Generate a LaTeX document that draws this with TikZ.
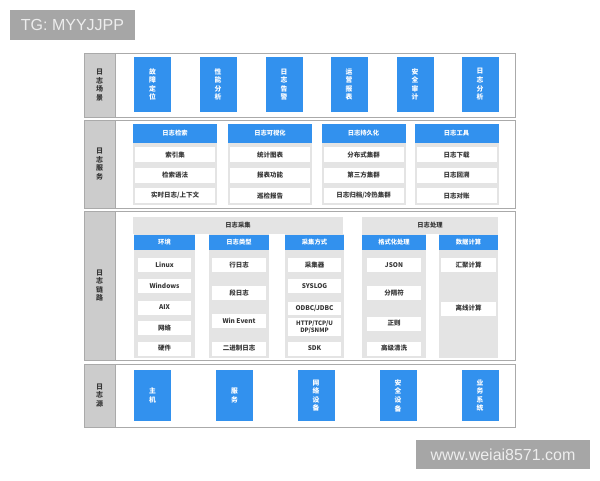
\documentclass[tikz,border=0pt]{standalone}
\usepackage{fontspec}
\setmainfont{Noto Sans CJK SC}
\newfontfamily\tagfont{Liberation Sans}
\usepackage{tikz}
\usetikzlibrary{positioning}
\definecolor{myblue}{RGB}{50,145,238}
\definecolor{mygri1}{RGB}{228,228,228}
\definecolor{mygri2}{RGB}{204,204,204}
\definecolor{mygri3}{RGB}{170,170,170}
\definecolor{mytag}{RGB}{166,166,166}
\definecolor{mydark}{RGB}{55,55,55}
\tikzstyle{row} = [rectangle, draw=mygri3, fill=white, line width=0.8pt, inner sep=0pt]
\tikzstyle{side} = [rectangle, draw=mygri3, fill=mygri2, line width=0.8pt, text=mydark, inner sep=0pt, align=center, minimum width=31pt, font=\bfseries\fontsize{7}{8.5}\selectfont]
\tikzstyle{tile} = [rectangle, fill=myblue, text=white, inner sep=0pt, align=center, minimum width=37pt, font=\bfseries\fontsize{6.8}{8.6}\selectfont]
\tikzstyle{group} = [rectangle, fill=mygri1, inner sep=0pt]
\tikzstyle{head} = [rectangle, fill=myblue, text=white, inner sep=0pt, font=\bfseries\fontsize{6.3}{7}\selectfont]
\tikzstyle{band} = [rectangle, fill=mygri1, text=mydark, inner sep=0pt, minimum height=17pt, font=\bfseries\fontsize{6.3}{7}\selectfont]
\tikzstyle{item} = [rectangle, fill=white, text=mydark, inner sep=0pt, align=center, font=\bfseries\fontsize{6.5}{7}\selectfont]
\tikzstyle{tag} = [rectangle, fill=mytag, text=white!93!black, inner sep=0pt, font=\tagfont\fontsize{16}{19}\selectfont]

\begin{document}
\begin{tikzpicture}[x=1pt,y=-1pt]
	\useasboundingbox (0,0) rectangle (600,480);
	\node (tg)[tag, minimum width=125pt, minimum height=30pt] at (72.5,25) {TG: MYYJJPP};
	\node (www)[tag, minimum width=174pt, minimum height=29pt] at (503,454.5) {www.weiai8571.com};
	% rows
	\node (scen)[row, minimum width=431pt, minimum height=64pt] at (299.5,85) {};
	\node (serv)[row, minimum width=431pt, minimum height=88pt] at (299.5,164) {};
	\node (link)[row, minimum width=431pt, minimum height=149pt] at (299.5,285.5) {};
	\node (srce)[row, minimum width=431pt, minimum height=63pt] at (299.5,395.5) {};
	\node (scenl)[side, minimum height=64pt] at (99.5,85) {日\\志\\场\\景};
	\node (servl)[side, minimum height=88pt] at (99.5,164) {日\\志\\服\\务};
	\node (linkl)[side, minimum height=149pt] at (99.5,285.5) {日\\志\\链\\路};
	\node (srcel)[side, minimum height=63pt] at (99.5,395.5) {日\\志\\源};
	% scenes
	\node (scen1)[tile, minimum height=55pt] at (152.5,84.5) {故\\障\\定\\位};
	\node (scen2)[tile, minimum height=55pt] at (218,84.5) {性\\能\\分\\析};
	\node (scen3)[tile, minimum height=55pt] at (284,84.5) {日\\志\\告\\警};
	\node (scen4)[tile, minimum height=55pt] at (349,84.5) {运\\营\\报\\表};
	\node (scen5)[tile, minimum height=55pt] at (415,84.5) {安\\全\\审\\计};
	\node (scen6)[tile, minimum height=55pt] at (480,84.5) {日\\志\\分\\析};
	% services
	\node (srchbg)[group, minimum width=84pt, minimum height=81pt] at (175,164.5) {};
	\node (visubg)[group, minimum width=84pt, minimum height=81pt] at (270,164.5) {};
	\node (persbg)[group, minimum width=84pt, minimum height=81pt] at (363.5,164.5) {};
	\node (toolbg)[group, minimum width=84pt, minimum height=81pt] at (456.5,164.5) {};
	\node (srchh)[head, minimum width=84pt, minimum height=19pt] at (175,133.5) {日志检索};
	\node (visuh)[head, minimum width=84pt, minimum height=19pt] at (270,133.5) {日志可视化};
	\node (persh)[head, minimum width=84pt, minimum height=19pt] at (363.5,133.5) {日志持久化};
	\node (toolh)[head, minimum width=84pt, minimum height=19pt] at (456.5,133.5) {日志工具};
	\node (srch1)[item, minimum width=80pt, minimum height=15pt, below=4pt of srchh] {索引集};
	\node (srch2)[item, minimum width=80pt, minimum height=15pt, below=5pt of srch1] {检索语法};
	\node (srch3)[item, minimum width=80pt, minimum height=15pt, below=5pt of srch2] {实时日志/上下文};
	\node (visu1)[item, minimum width=80pt, minimum height=15pt, below=4pt of visuh] {统计图表};
	\node (visu2)[item, minimum width=80pt, minimum height=15pt, below=5pt of visu1] {报表功能};
	\node (visu3)[item, minimum width=80pt, minimum height=15pt, below=5pt of visu2] {巡检报告};
	\node (pers1)[item, minimum width=80pt, minimum height=15pt, below=4pt of persh] {分布式集群};
	\node (pers2)[item, minimum width=80pt, minimum height=15pt, below=5pt of pers1] {第三方集群};
	\node (pers3)[item, minimum width=80pt, minimum height=15pt, below=5pt of pers2] {日志归档/冷热集群};
	\node (tool1)[item, minimum width=80pt, minimum height=15pt, below=4pt of toolh] {日志下载};
	\node (tool2)[item, minimum width=80pt, minimum height=15pt, below=5pt of tool1] {日志回溯};
	\node (tool3)[item, minimum width=80pt, minimum height=15pt, below=5pt of tool2] {日志对账};
	% link
	\node (coll)[band, minimum width=210pt] at (238,225.5) {日志采集};
	\node (proc)[band, minimum width=136pt] at (430,225.5) {日志处理};
	\node (envbg)[group, minimum width=61pt, minimum height=124pt] at (164.5,296) {};
	\node (typebg)[group, minimum width=60pt, minimum height=124pt] at (239,296) {};
	\node (waybg)[group, minimum width=59pt, minimum height=124pt] at (314.5,296) {};
	\node (fmtbg)[group, minimum width=64pt, minimum height=124pt] at (394,296) {};
	\node (calcbg)[group, minimum width=59pt, minimum height=124pt] at (468.5,296) {};
	\node (envh)[head, minimum width=61pt, minimum height=15pt] at (164.5,242.5) {环境};
	\node (typeh)[head, minimum width=60pt, minimum height=15pt] at (239,242.5) {日志类型};
	\node (wayh)[head, minimum width=59pt, minimum height=15pt] at (314.5,242.5) {采集方式};
	\node (fmth)[head, minimum width=64pt, minimum height=15pt] at (394,242.5) {格式化处理};
	\node (calch)[head, minimum width=59pt, minimum height=15pt] at (468.5,242.5) {数据计算};
	\node (env1)[item, minimum width=53pt, minimum height=14pt] at (164.5,265) {Linux};
	\node (env2)[item, minimum width=53pt, minimum height=14pt] at (164.5,286) {Windows};
	\node (env3)[item, minimum width=53pt, minimum height=14pt] at (164.5,307.5) {AIX};
	\node (env4)[item, minimum width=53pt, minimum height=14pt] at (164.5,328) {网络};
	\node (env5)[item, minimum width=53pt, minimum height=14pt] at (164.5,348.5) {硬件};
	\node (type1)[item, minimum width=54pt, minimum height=14pt] at (239,265) {行日志};
	\node (type2)[item, minimum width=54pt, minimum height=14pt] at (239,292.5) {段日志};
	\node (type3)[item, minimum width=54pt, minimum height=14pt] at (239,320.5) {Win Event};
	\node (type4)[item, minimum width=54pt, minimum height=14pt] at (239,348.5) {二进制日志};
	\node (way1)[item, minimum width=53pt, minimum height=14pt] at (314.5,265) {采集器};
	\node (way2)[item, minimum width=53pt, minimum height=14pt] at (314.5,286) {SYSLOG};
	\node (way3)[item, minimum width=53pt, minimum height=13pt] at (314.5,308) {ODBC/JDBC};
	\node (way4)[item, minimum width=53pt, minimum height=18pt, font=\bfseries\fontsize{6}{6.6}\selectfont] at (314.5,327) {HTTP/TCP/U\\DP/SNMP};
	\node (way5)[item, minimum width=53pt, minimum height=14pt] at (314.5,348.5) {SDK};
	\node (fmt1)[item, minimum width=54pt, minimum height=14pt] at (394,265) {JSON};
	\node (fmt2)[item, minimum width=54pt, minimum height=14pt] at (394,293) {分隔符};
	\node (fmt3)[item, minimum width=54pt, minimum height=14pt] at (394,323.5) {正则};
	\node (fmt4)[item, minimum width=54pt, minimum height=14pt] at (394,348.5) {高级清洗};
	\node (calc1)[item, minimum width=55pt, minimum height=14pt] at (468.5,265) {汇聚计算};
	\node (calc2)[item, minimum width=55pt, minimum height=14pt] at (468.5,308.5) {离线计算};
	% sources
	\node (srce1)[tile, minimum height=51pt] at (152.5,395.5) {主\\机};
	\node (srce2)[tile, minimum height=51pt] at (234.5,395.5) {服\\务};
	\node (srce3)[tile, minimum height=51pt] at (316,395.5) {网\\络\\设\\备};
	\node (srce4)[tile, minimum height=51pt] at (398,395.5) {安\\全\\设\\备};
	\node (srce5)[tile, minimum height=51pt] at (480,395.5) {业\\务\\系\\统};
\end{tikzpicture}
\end{document}
